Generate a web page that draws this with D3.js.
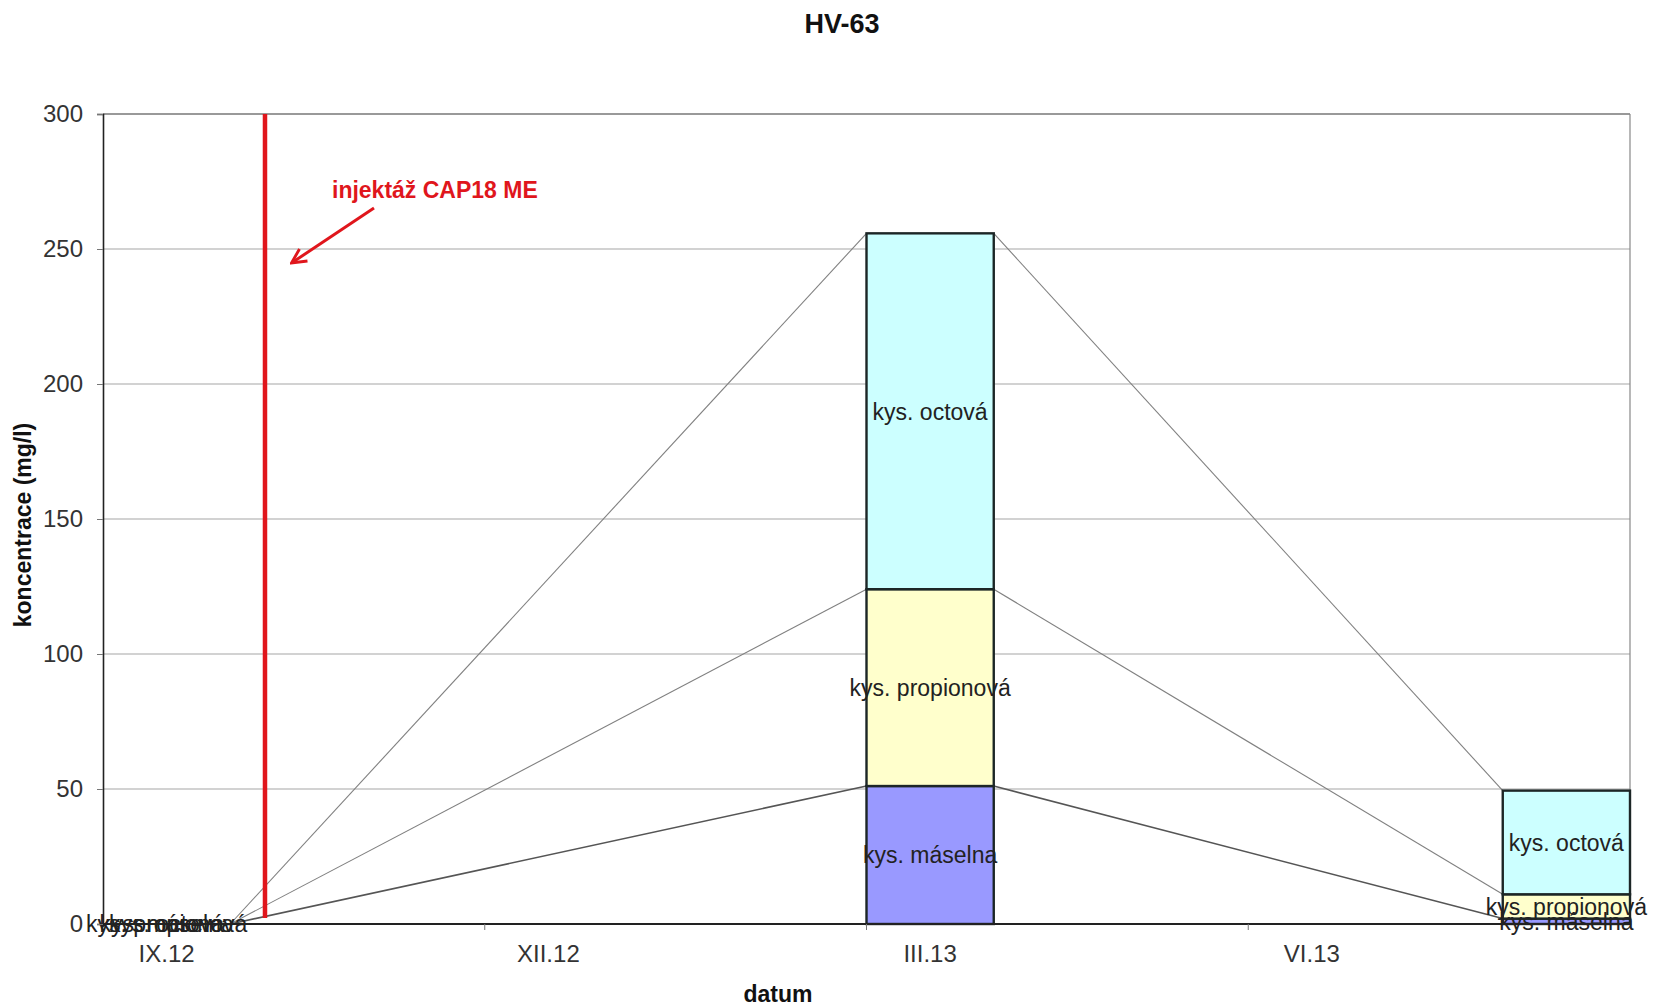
<!DOCTYPE html>
<html>
<head>
<meta charset="utf-8">
<script src="https://cdn.jsdelivr.net/npm/d3@7"></script>
<style>
  html, body { margin: 0; padding: 0; background: #fff; }
  svg { display: block; }
  text { font-family: "Liberation Sans", Arial, sans-serif; }
</style>
</head>
<body>
<svg id="chart" width="1653" height="1008"></svg>
<script>
// Monthly slots of the date axis
const months = ["IX.12", "X.12", "XI.12", "XII.12", "I.13", "II.13", "III.13",
                "IV.13", "V.13", "VI.13", "VII.13", "VIII.13"];
const xTickLabels = ["IX.12", "XII.12", "III.13", "VI.13"];

// Sampling campaigns and measured concentrations (mg/l)
const sampleMonths = ["IX.12", "III.13", "VIII.13"];
const maselna     = [0, 51.1, 2];
const propionova  = [0, 72.9, 9];
const octova      = [0, 131.8, 38.4];
const seriesNames = ["kys. máselna", "kys. propionová", "kys. octová"];
const seriesColors = ["#9999ff", "#ffffcc", "#ccffff"];

const yTicks = [0, 50, 100, 150, 200, 250, 300];

// Injection event: month and fraction of the month elapsed
const injectionMonth = "X.12";
const injectionFraction = 0.273;
const injectionLabel = "injektáž CAP18 ME";

const svg = d3.select("#chart");
const plotLeft = 103, plotRight = 1630, plotTop = 114, plotBottom = 924;

const x = d3.scaleBand().domain(months).range([plotLeft, plotRight]).padding(0);
const y = d3.scaleLinear().domain([0, 300]).range([plotBottom, plotTop]);

// Stack the three acids
const rows = sampleMonths.map((m, i) => ({
  month: m,
  [seriesNames[0]]: maselna[i],
  [seriesNames[1]]: propionova[i],
  [seriesNames[2]]: octova[i]
}));
const stacked = d3.stack().keys(seriesNames)(rows);

// Title
svg.append("text")
  .attr("x", 842).attr("y", 33)
  .attr("text-anchor", "middle")
  .attr("font-size", 27).attr("font-weight", "bold").attr("fill", "#111")
  .text("HV-63");

// Horizontal gridlines
svg.append("g").selectAll("line")
  .data(yTicks.filter(d => d > 0))
  .join("line")
  .attr("x1", plotLeft).attr("x2", plotRight)
  .attr("y1", d => y(d)).attr("y2", d => y(d))
  .attr("stroke", d => d === 300 ? "#777" : "#a6a6a6")
  .attr("stroke-width", d => d === 300 ? 1.5 : 1.2);

// Right frame of the plot area
svg.append("line")
  .attr("x1", plotRight).attr("x2", plotRight).attr("y1", plotTop).attr("y2", plotBottom)
  .attr("stroke", "#888").attr("stroke-width", 1.2);

// Series lines joining tops of the stacked segments between neighbouring bars
const seriesLineG = svg.append("g");
stacked.forEach((layer, si) => {
  for (let i = 0; i < layer.length - 1; i++) {
    const a = layer[i], b = layer[i + 1];
    seriesLineG.append("line")
      .attr("x1", x(a.data.month) + x.bandwidth())
      .attr("y1", y(a[1]))
      .attr("x2", x(b.data.month))
      .attr("y2", y(b[1]))
      .attr("stroke", si === 0 ? "#555" : "#808080")
      .attr("stroke-width", si === 0 ? 1.6 : 1.1);
  }
});

// Stacked bars
const barG = svg.append("g");
stacked.forEach((layer, si) => {
  barG.append("g").selectAll("rect")
    .data(layer)
    .join("rect")
    .attr("x", d => x(d.data.month))
    .attr("width", x.bandwidth())
    .attr("y", d => y(d[1]))
    .attr("height", d => y(d[0]) - y(d[1]))
    .attr("fill", seriesColors[si])
    .attr("stroke", "#1c2626")
    .attr("stroke-width", 2.4);
});

// Injection marker
const injX = x(injectionMonth) + injectionFraction * x.bandwidth();
svg.append("line")
  .attr("x1", injX).attr("x2", injX)
  .attr("y1", plotTop).attr("y2", plotBottom - 6)
  .attr("stroke", "#e0161c").attr("stroke-width", 4.5);

// Segment labels (series names)
const labelG = svg.append("g");
stacked.forEach((layer, si) => {
  labelG.append("g").selectAll("text")
    .data(layer)
    .join("text")
    .attr("x", d => x(d.data.month) + x.bandwidth() / 2)
    .attr("y", d => y((d[0] + d[1]) / 2))
    .attr("dy", "0.36em")
    .attr("text-anchor", "middle")
    .attr("font-size", 23)
    .attr("fill", "#222")
    .text(seriesNames[si]);
});

// Y axis
const yAxis = d3.axisLeft(y).tickValues(yTicks).tickSize(6).tickPadding(14)
  .tickFormat(d3.format("d"));
const gy = svg.append("g").attr("transform", `translate(${plotLeft},0)`).call(yAxis);
gy.select(".domain").attr("stroke", "#222").attr("stroke-width", 1.6);
gy.selectAll(".tick line").attr("stroke", "#777");
gy.selectAll(".tick text")
  .attr("font-family", "Liberation Sans, Arial, sans-serif")
  .attr("font-size", 24).attr("fill", "#333");

// X axis: tick marks on quarter boundaries, labels centred in the first month of each quarter
const gx = svg.append("g");
gx.append("line")
  .attr("x1", plotLeft).attr("x2", plotRight).attr("y1", plotBottom).attr("y2", plotBottom)
  .attr("stroke", "#222").attr("stroke-width", 2.2);
gx.selectAll("line.tick")
  .data(xTickLabels.slice(1))
  .join("line")
  .attr("class", "tick")
  .attr("x1", d => x(d)).attr("x2", d => x(d))
  .attr("y1", plotBottom).attr("y2", plotBottom + 6)
  .attr("stroke", "#777");
gx.selectAll("text")
  .data(xTickLabels)
  .join("text")
  .attr("x", d => x(d) + x.bandwidth() / 2)
  .attr("y", 962)
  .attr("text-anchor", "middle")
  .attr("font-size", 24).attr("fill", "#333")
  .text(d => d);

// Axis titles
svg.append("text")
  .attr("transform", "translate(31,525) rotate(-90)")
  .attr("text-anchor", "middle")
  .attr("font-size", 23).attr("font-weight", "bold").attr("fill", "#111")
  .text("koncentrace (mg/l)");
svg.append("text")
  .attr("x", 778).attr("y", 1002)
  .attr("text-anchor", "middle")
  .attr("font-size", 23).attr("font-weight", "bold").attr("fill", "#111")
  .text("datum");

// Annotation of the injection
svg.append("defs").append("marker")
  .attr("id", "arrowHead")
  .attr("viewBox", "0 0 10 10").attr("refX", 8).attr("refY", 5)
  .attr("markerWidth", 6).attr("markerHeight", 6)
  .attr("markerUnits", "strokeWidth")
  .attr("orient", "auto")
  .append("path").attr("d", "M1,1 L9,5 L1,9").attr("fill", "none")
  .attr("stroke", "#e0161c").attr("stroke-width", 1.6);
svg.append("line")
  .attr("x1", 374).attr("y1", 208).attr("x2", 293).attr("y2", 262)
  .attr("stroke", "#e0161c").attr("stroke-width", 3)
  .attr("marker-end", "url(#arrowHead)");
svg.append("text")
  .attr("x", 332).attr("y", 198)
  .attr("font-family", "Lato, 'Open Sans', sans-serif")
  .attr("font-size", 23).attr("font-weight", "bold").attr("fill", "#e0161c")
  .text(injectionLabel);
</script>
</body>
</html>
